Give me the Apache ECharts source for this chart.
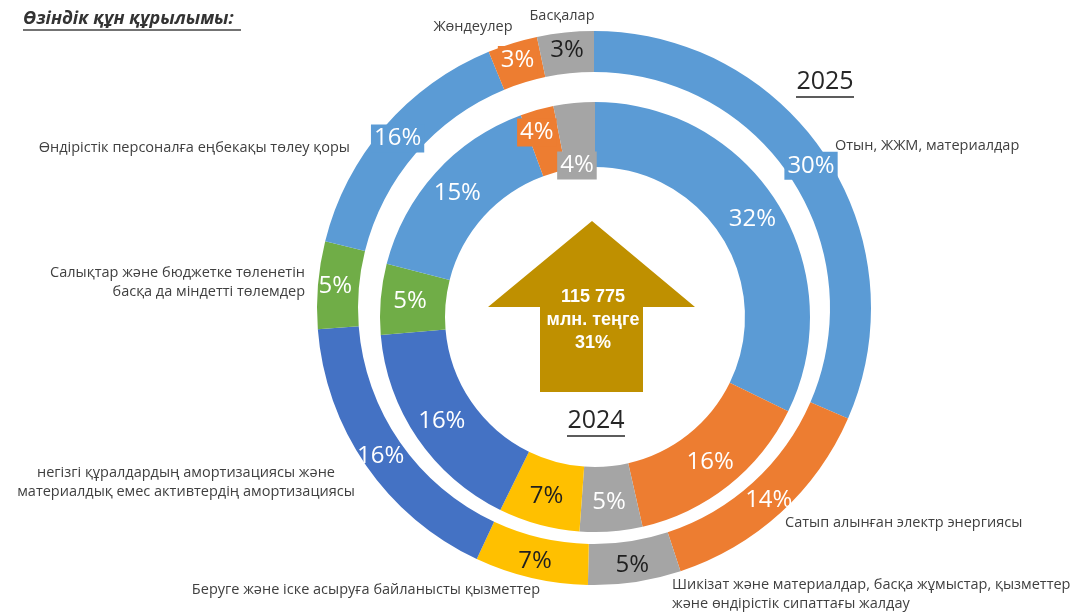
<!DOCTYPE html>
<html>
<head>
<meta charset="utf-8">
<script src="https://cdn.jsdelivr.net/npm/echarts@6/dist/echarts.min.js"></script>
<style>
  html, body { margin: 0; padding: 0; background: #fff; }
  #chart { width: 1089px; height: 616px; }
</style>
</head>
<body>
<div id="chart"></div>
<script>
// категориялар (сағат тілімен, жоғарыдан бастап)
const categories = [
  'Отын, ЖЖМ, материалдар',
  'Сатып алынған электр энергиясы',
  'Шикізат және материалдар, басқа жұмыстар, қызметтер\nжәне өндірістік сипаттағы жалдау',
  'Беруге және іске асыруға байланысты қызметтер',
  'негізгі құралдардың амортизациясы және\nматериалдық емес активтердің амортизациясы',
  'Салықтар және бюджетке төленетін\nбасқа да міндетті төлемдер',
  'Өндірістік персоналға еңбекақы төлеу қоры',
  'Жөндеулер',
  'Басқалар'
];
// сегмент үлесі (суреттен өлшенген)
const share2025 = [31.5, 13.4, 5.4, 6.6, 16.8, 5.1, 14.9, 2.9, 3.3];
const share2024 = [32.2, 14.2, 4.7, 6.1, 16.4, 5.3, 15.4, 2.5, 3.1];
// сегмент жазулары
const labels2025 = ['30%', '14%', '5%', '7%', '16%', '5%', '16%', '3%', '3%'];
const labels2024 = ['32%', '16%', '5%', '7%', '16%', '5%', '15%', '4%', '4%'];

const colors = ['#5B9BD5', '#ED7D31', '#A5A5A5', '#FFC000', '#4472C4', '#70AD47', '#5B9BD5', '#ED7D31', '#A5A5A5'];

const chart = echarts.init(document.getElementById('chart'));

function buildData(values, labels, darkIdx, boxIdx) {
  return values.map((v, i) => ({
    value: v,
    name: categories[i],
    itemStyle: { color: colors[i] },
    label: {
      formatter: labels[i],
      color: darkIdx.includes(i) ? '#1f1f1f' : '#ffffff',
      backgroundColor: boxIdx.includes(i) ? colors[i] : 'transparent',
      padding: boxIdx.includes(i) ? [3, 3, 1, 3] : 0
    }
  }));
}

const pieBase = {
  type: 'pie',
  startAngle: 90,
  clockwise: true,
  silent: true,
  avoidLabelOverlap: false,
  labelLine: { show: false },
  itemStyle: { borderWidth: 0 },
  label: {
    show: true,
    position: 'inside',
    fontFamily: 'Open Sans',
    fontSize: 24
  }
};

// текст жазулары (категория атаулары)
const nameText = [
  { i: 0, x: 835, y: 146, align: 'left' },
  { i: 1, x: 785, y: 523, align: 'left' },
  { i: 2, x: 672, y: 594, align: 'left' },
  { i: 3, x: 366, y: 590, align: 'center' },
  { i: 4, x: 186, y: 482, align: 'center' },
  { i: 5, x: 305, y: 282, align: 'right' },
  { i: 6, x: 350, y: 148, align: 'right' },
  { i: 7, x: 473, y: 27, align: 'center' },
  { i: 8, x: 562, y: 16, align: 'center' }
];

const graphics = nameText.map(t => ({
  type: 'text',
  x: t.x,
  y: t.y,
  silent: true,
  style: {
    text: categories[t.i],
    font: '14.5px "Open Sans"',
    fill: '#404040',
    textAlign: t.align,
    textVerticalAlign: 'middle',
    lineHeight: 19
  }
}));

graphics.push(
  // тақырып
  {
    type: 'text', x: 23, y: 19, silent: true,
    style: {
      text: 'Өзіндік құн құрылымы:',
      font: 'italic bold 18px "Open Sans"',
      fill: '#333333',
      textVerticalAlign: 'middle',
      shadowColor: 'rgba(0,0,0,0.35)', shadowBlur: 2, shadowOffsetX: 1, shadowOffsetY: 1
    }
  },
  { type: 'line', silent: true, shape: { x1: 23, y1: 30, x2: 241, y2: 30 }, style: { stroke: '#444', lineWidth: 1.5 } },
  // жылдар
  {
    type: 'text', x: 825, y: 82, silent: true,
    style: { text: '2025', font: '25px "Open Sans"', fill: '#262626', textAlign: 'center', textVerticalAlign: 'middle' }
  },
  { type: 'line', silent: true, shape: { x1: 796, y1: 97, x2: 854, y2: 97 }, style: { stroke: '#262626', lineWidth: 1.5 } },
  {
    type: 'text', x: 596, y: 421, silent: true,
    style: { text: '2024', font: '25px "Open Sans"', fill: '#262626', textAlign: 'center', textVerticalAlign: 'middle' }
  },
  { type: 'line', silent: true, shape: { x1: 567, y1: 436, x2: 625, y2: 436 }, style: { stroke: '#262626', lineWidth: 1.5 } },
  // жебе
  {
    type: 'polygon', silent: true,
    shape: { points: [[592, 221], [695, 307], [643, 307], [643, 392], [540, 392], [540, 307], [488, 307]] },
    style: { fill: '#BF9000' }
  },
  {
    type: 'text', x: 593, y: 320, silent: true,
    style: {
      text: '115 775\nмлн. теңге\n31%',
      font: 'bold 18px "Liberation Sans"',
      fill: '#ffffff',
      textAlign: 'center',
      textVerticalAlign: 'middle',
      lineHeight: 23
    }
  }
);

const option = {
  animation: false,
  backgroundColor: '#ffffff',
  series: [
    Object.assign({}, pieBase, {
      name: '2025',
      center: [594, 308],
      radius: [236, 277],
      data: buildData(share2025, labels2025, [2, 3, 8], [0, 6, 7, 8])
    }),
    Object.assign({}, pieBase, {
      name: '2024',
      center: [595, 317],
      radius: [150, 215],
      data: buildData(share2024, labels2024, [3], [7, 8]),
      labelLayout: function (params) {
        if (params.dataIndex === 8) return { dy: 33 };
        if (params.dataIndex === 7) return { dx: -8, dy: -6 };
        return {};
      }
    })
  ],
  graphic: graphics
};

chart.setOption(option);
</script>
</body>
</html>
